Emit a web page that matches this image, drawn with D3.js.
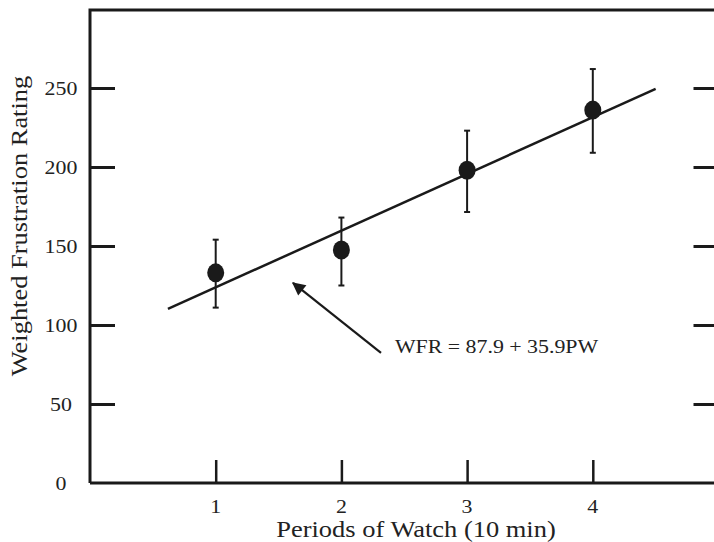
<!DOCTYPE html>
<html><head><meta charset="utf-8">
<script src="https://cdn.jsdelivr.net/npm/d3@7"></script>
<style>body{margin:0;background:#fff}svg{display:block}text{font-family:"Liberation Serif","Times New Roman",serif;fill:#222}</style>
</head><body>
<svg id="c" width="714" height="542"></svg>
<script>
const periods = [1, 2, 3, 4];
const means = [133, 147.5, 198, 236];
const upper = [154, 168, 223, 262];
const lower = [111, 125, 171.5, 209];
const xTicks = [1, 2, 3, 4];
const yTicks = [0, 50, 100, 150, 200, 250];
const intercept = 87.9, slope = 35.9;
const fitRange = [0.62, 4.5];
const eqLabel = "WFR = 87.9 + 35.9PW";
const arrowFrom = [2.315, 82.3];
const arrowTo = [1.615, 126.6];

const svg = d3.select("#c");
const x = d3.scaleLinear().domain([0, 5]).range([90, 718.5]);
const y = d3.scaleLinear().domain([0, 250]).range([483, 88]);
const ink = "#1a1a1a";
const stretch = 1.15;
function wide(sel, fs){
  sel.attr("font-size", fs).each(function(){
    const w = this.getComputedTextLength();
    d3.select(this).attr("textLength", w*stretch).attr("lengthAdjust","spacingAndGlyphs");
  });
}

// frame
svg.append("path").attr("d", `M${x(0)},${y(0)}V10H720`).attr("fill","none").attr("stroke",ink).attr("stroke-width",3);
svg.append("line").attr("x1",x(0)).attr("x2",720).attr("y1",y(0)).attr("y2",y(0)).attr("stroke",ink).attr("stroke-width",3);

// left axis ticks + labels
const yl = svg.append("g").attr("transform",`translate(${x(0)},0)`)
  .call(d3.axisRight(y).tickValues(yTicks).tickSize(25).tickFormat(""));
yl.select(".domain").remove();
yl.selectAll(".tick line").attr("stroke",ink).attr("stroke-width",3);
yl.selectAll(".tick").filter(d=>d===0).select("line").remove();
svg.append("g").selectAll("text").data(yTicks).join("text")
  .attr("x",61).attr("y",d=>y(d)).attr("dy","0.35em").attr("text-anchor","middle")
  .text(d=>d).call(wide, 19);

// right ticks
const yr = svg.append("g").attr("transform",`translate(${x(5)},0)`)
  .call(d3.axisLeft(y).tickValues(yTicks.filter(d=>d>0)).tickSize(25).tickFormat(""));
yr.select(".domain").remove();
yr.selectAll(".tick line").attr("stroke",ink).attr("stroke-width",3);

// bottom ticks
const xa = svg.append("g").attr("transform",`translate(0,${y(0)})`)
  .call(d3.axisTop(x).tickValues(xTicks).tickSize(23).tickFormat(""));
xa.select(".domain").remove();
xa.selectAll(".tick line").attr("stroke",ink).attr("stroke-width",2.5);
svg.append("g").selectAll("text").data(xTicks).join("text")
  .attr("x",d=>x(d)).attr("y",506).attr("dy","0.35em").attr("text-anchor","middle")
  .text(d=>d).call(wide, 19);

// titles
svg.append("text").attr("x",416).attr("y",537).attr("text-anchor","middle")
  .text("Periods of Watch (10 min)").call(wide, 23);
svg.append("text").attr("transform","translate(27,226) rotate(-90)").attr("text-anchor","middle")
  .text("Weighted Frustration Rating").call(wide, 23);

// fit line
svg.append("line").attr("x1",x(fitRange[0])).attr("y1",y(intercept+slope*fitRange[0]))
  .attr("x2",x(fitRange[1])).attr("y2",y(intercept+slope*fitRange[1]))
  .attr("stroke",ink).attr("stroke-width",2.5);

// error bars
const eb = svg.append("g");
periods.forEach((p,i)=>{
  eb.append("line").attr("x1",x(p)).attr("x2",x(p)).attr("y1",y(upper[i])).attr("y2",y(lower[i]))
    .attr("stroke",ink).attr("stroke-width",2);
  [upper[i],lower[i]].forEach(v=>eb.append("line").attr("x1",x(p)-3).attr("x2",x(p)+3)
    .attr("y1",y(v)).attr("y2",y(v)).attr("stroke",ink).attr("stroke-width",2));
});
svg.append("g").selectAll("ellipse").data(periods).join("ellipse")
  .attr("cx",d=>x(d)).attr("cy",(d,i)=>y(means[i])).attr("rx",8.5).attr("ry",9.5).attr("fill",ink);

// arrow
const defs = svg.append("defs");
defs.append("marker").attr("id","ah").attr("viewBox","0 0 10 10").attr("refX",9).attr("refY",5)
  .attr("markerWidth",7).attr("markerHeight",6).attr("markerUnits","strokeWidth").attr("orient","auto")
  .append("path").attr("d","M0,0L10,5L0,10z").attr("fill",ink);
svg.append("line").attr("x1",x(arrowFrom[0])).attr("y1",y(arrowFrom[1]))
  .attr("x2",x(arrowTo[0])).attr("y2",y(arrowTo[1])).attr("stroke",ink).attr("stroke-width",2.2)
  .attr("marker-end","url(#ah)");
svg.append("text").attr("x",395).attr("y",353).text(eqLabel).call(wide, 19);
</script>
</body></html>
